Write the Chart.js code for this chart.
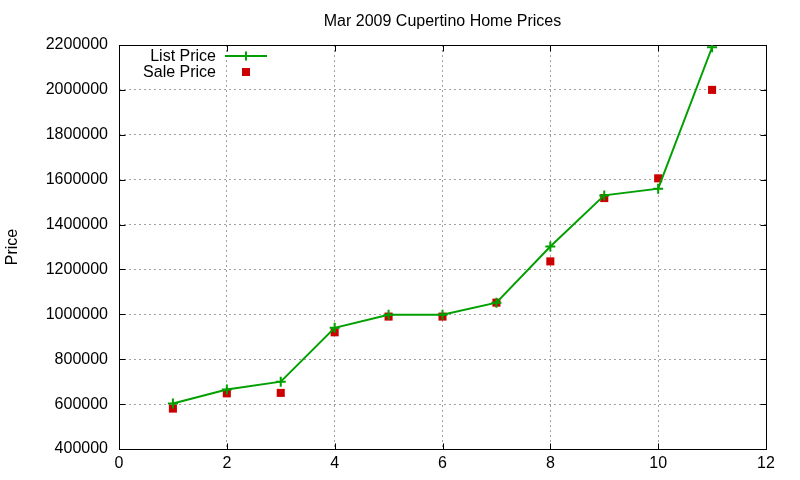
<!DOCTYPE html>
<html><head><meta charset="utf-8">
<script src="https://cdn.jsdelivr.net/npm/chart.js@4.4.1/dist/chart.umd.min.js"></script>
<style>html,body{margin:0;padding:0;background:#fff}canvas{display:block}</style>
</head><body>
<canvas id="c" width="800" height="480"></canvas>
<script>
const months = [1, 2, 3, 4, 5, 6, 7, 8, 9, 10, 11];
const listPrice = [603000, 665000, 700000, 940000, 998000, 998000, 1052000, 1302000, 1530000, 1560000, 2190000];
const salePrice = [580000, 648000, 650000, 920000, 990000, 990000, 1052000, 1236000, 1518000, 1606000, 2000000];
const xTicks = [0, 2, 4, 6, 8, 10, 12];
const yTicks = [400000, 600000, 800000, 1000000, 1200000, 1400000, 1600000, 1800000, 2000000, 2200000];
const titleText = 'Mar 2009 Cupertino Home Prices';
const yTitle = 'Price';
const seriesNames = ['List Price', 'Sale Price'];

const FONT = "'Liberation Sans', Arial, sans-serif";
const FS = 16;
const GREEN = '#00a000';
const RED = '#cc0000';

const gnuplotPlugin = {
  id: 'gnuplotDecor',
  beforeDatasetsDraw(chart) {
    const ctx = chart.ctx, a = chart.chartArea;
    const xs = chart.scales.x, ys = chart.scales.y;
    ctx.save();
    ctx.strokeStyle = '#000';
    ctx.lineWidth = 1;
    ctx.setLineDash([]);
    const L = Math.round(a.left) + 0.5, R = Math.round(a.right) + 0.5;
    const T = Math.round(a.top) + 0.5, B = Math.round(a.bottom) + 0.5;
    const tl = 6;
    ctx.beginPath();
    xTicks.forEach(v => {
      const px = Math.round(xs.getPixelForValue(v)) + 0.5;
      ctx.moveTo(px, B); ctx.lineTo(px, B - tl);
      ctx.moveTo(px, T); ctx.lineTo(px, T + tl);
    });
    yTicks.forEach(v => {
      const py = Math.round(ys.getPixelForValue(v)) + 0.5;
      ctx.moveTo(L, py); ctx.lineTo(L + tl, py);
      ctx.moveTo(R, py); ctx.lineTo(R - tl, py);
    });
    ctx.stroke();
    ctx.strokeRect(L, T, R - L, B - T);
    ctx.restore();
  },
  afterDraw(chart) {
    const ctx = chart.ctx, a = chart.chartArea;
    ctx.save();
    ctx.fillStyle = '#000';
    ctx.font = FS + 'px ' + FONT;
    ctx.textAlign = 'center';
    ctx.textBaseline = 'middle';
    ctx.fillText(titleText, (a.left + a.right) / 2, 22);
    // legend
    ctx.textAlign = 'right';
    ctx.fillText(seriesNames[0], 216, 57);
    ctx.fillText(seriesNames[1], 216, 73);
    ctx.strokeStyle = GREEN;
    ctx.lineWidth = 2;
    ctx.beginPath();
    ctx.moveTo(225, 56); ctx.lineTo(267, 56);
    ctx.moveTo(246, 51.5); ctx.lineTo(246, 60.5);
    ctx.stroke();
    ctx.fillStyle = RED;
    ctx.fillRect(242, 68, 8, 8);
    ctx.restore();
  }
};

new Chart(document.getElementById('c'), {
  type: 'scatter',
  data: {
    datasets: [
      {
        label: seriesNames[0],
        data: months.map((m, i) => ({ x: m, y: listPrice[i] })),
        showLine: true,
        borderColor: GREEN,
        backgroundColor: GREEN,
        borderWidth: 2,
        pointStyle: 'cross',
        pointRadius: 5,
        pointBorderWidth: 2,
        pointBorderColor: GREEN,
        tension: 0
      },
      {
        label: seriesNames[1],
        data: months.map((m, i) => ({ x: m, y: salePrice[i] })),
        showLine: false,
        backgroundColor: RED,
        borderColor: RED,
        pointStyle: 'rect',
        pointRadius: 5.7,
        pointBorderWidth: 0
      }
    ]
  },
  options: {
    responsive: false,
    animation: false,
    devicePixelRatio: 1,
    events: [],
    layout: { padding: { top: 45, right: 34, bottom: 0, left: 0 } },
    plugins: {
      legend: { display: false },
      title: { display: false },
      tooltip: { enabled: false }
    },
    scales: {
      x: {
        type: 'linear',
        min: 0, max: 12,
        afterBuildTicks: s => { s.ticks = xTicks.map(v => ({ value: v })); },
        afterFit: s => { s.height = 31; },
        grid: { color: '#a0a0a0', lineWidth: 1, drawTicks: false },
        border: { display: false, dash: [2, 3] },
        ticks: { color: '#000', font: { family: FONT, size: FS }, padding: 5, maxRotation: 0 }
      },
      y: {
        type: 'linear',
        min: 400000, max: 2200000,
        afterBuildTicks: s => { s.ticks = yTicks.map(v => ({ value: v })); },
        afterFit: s => { s.width = 119; },
        grid: { color: '#a0a0a0', lineWidth: 1, drawTicks: false },
        border: { display: false, dash: [2, 3] },
        ticks: { color: '#000', font: { family: FONT, size: FS }, padding: 11, callback: v => String(v) },
        title: { display: true, text: yTitle, color: '#000', font: { family: FONT, size: FS }, padding: { top: 3, bottom: 4 } }
      }
    }
  },
  plugins: [gnuplotPlugin]
});
</script>
</body></html>
